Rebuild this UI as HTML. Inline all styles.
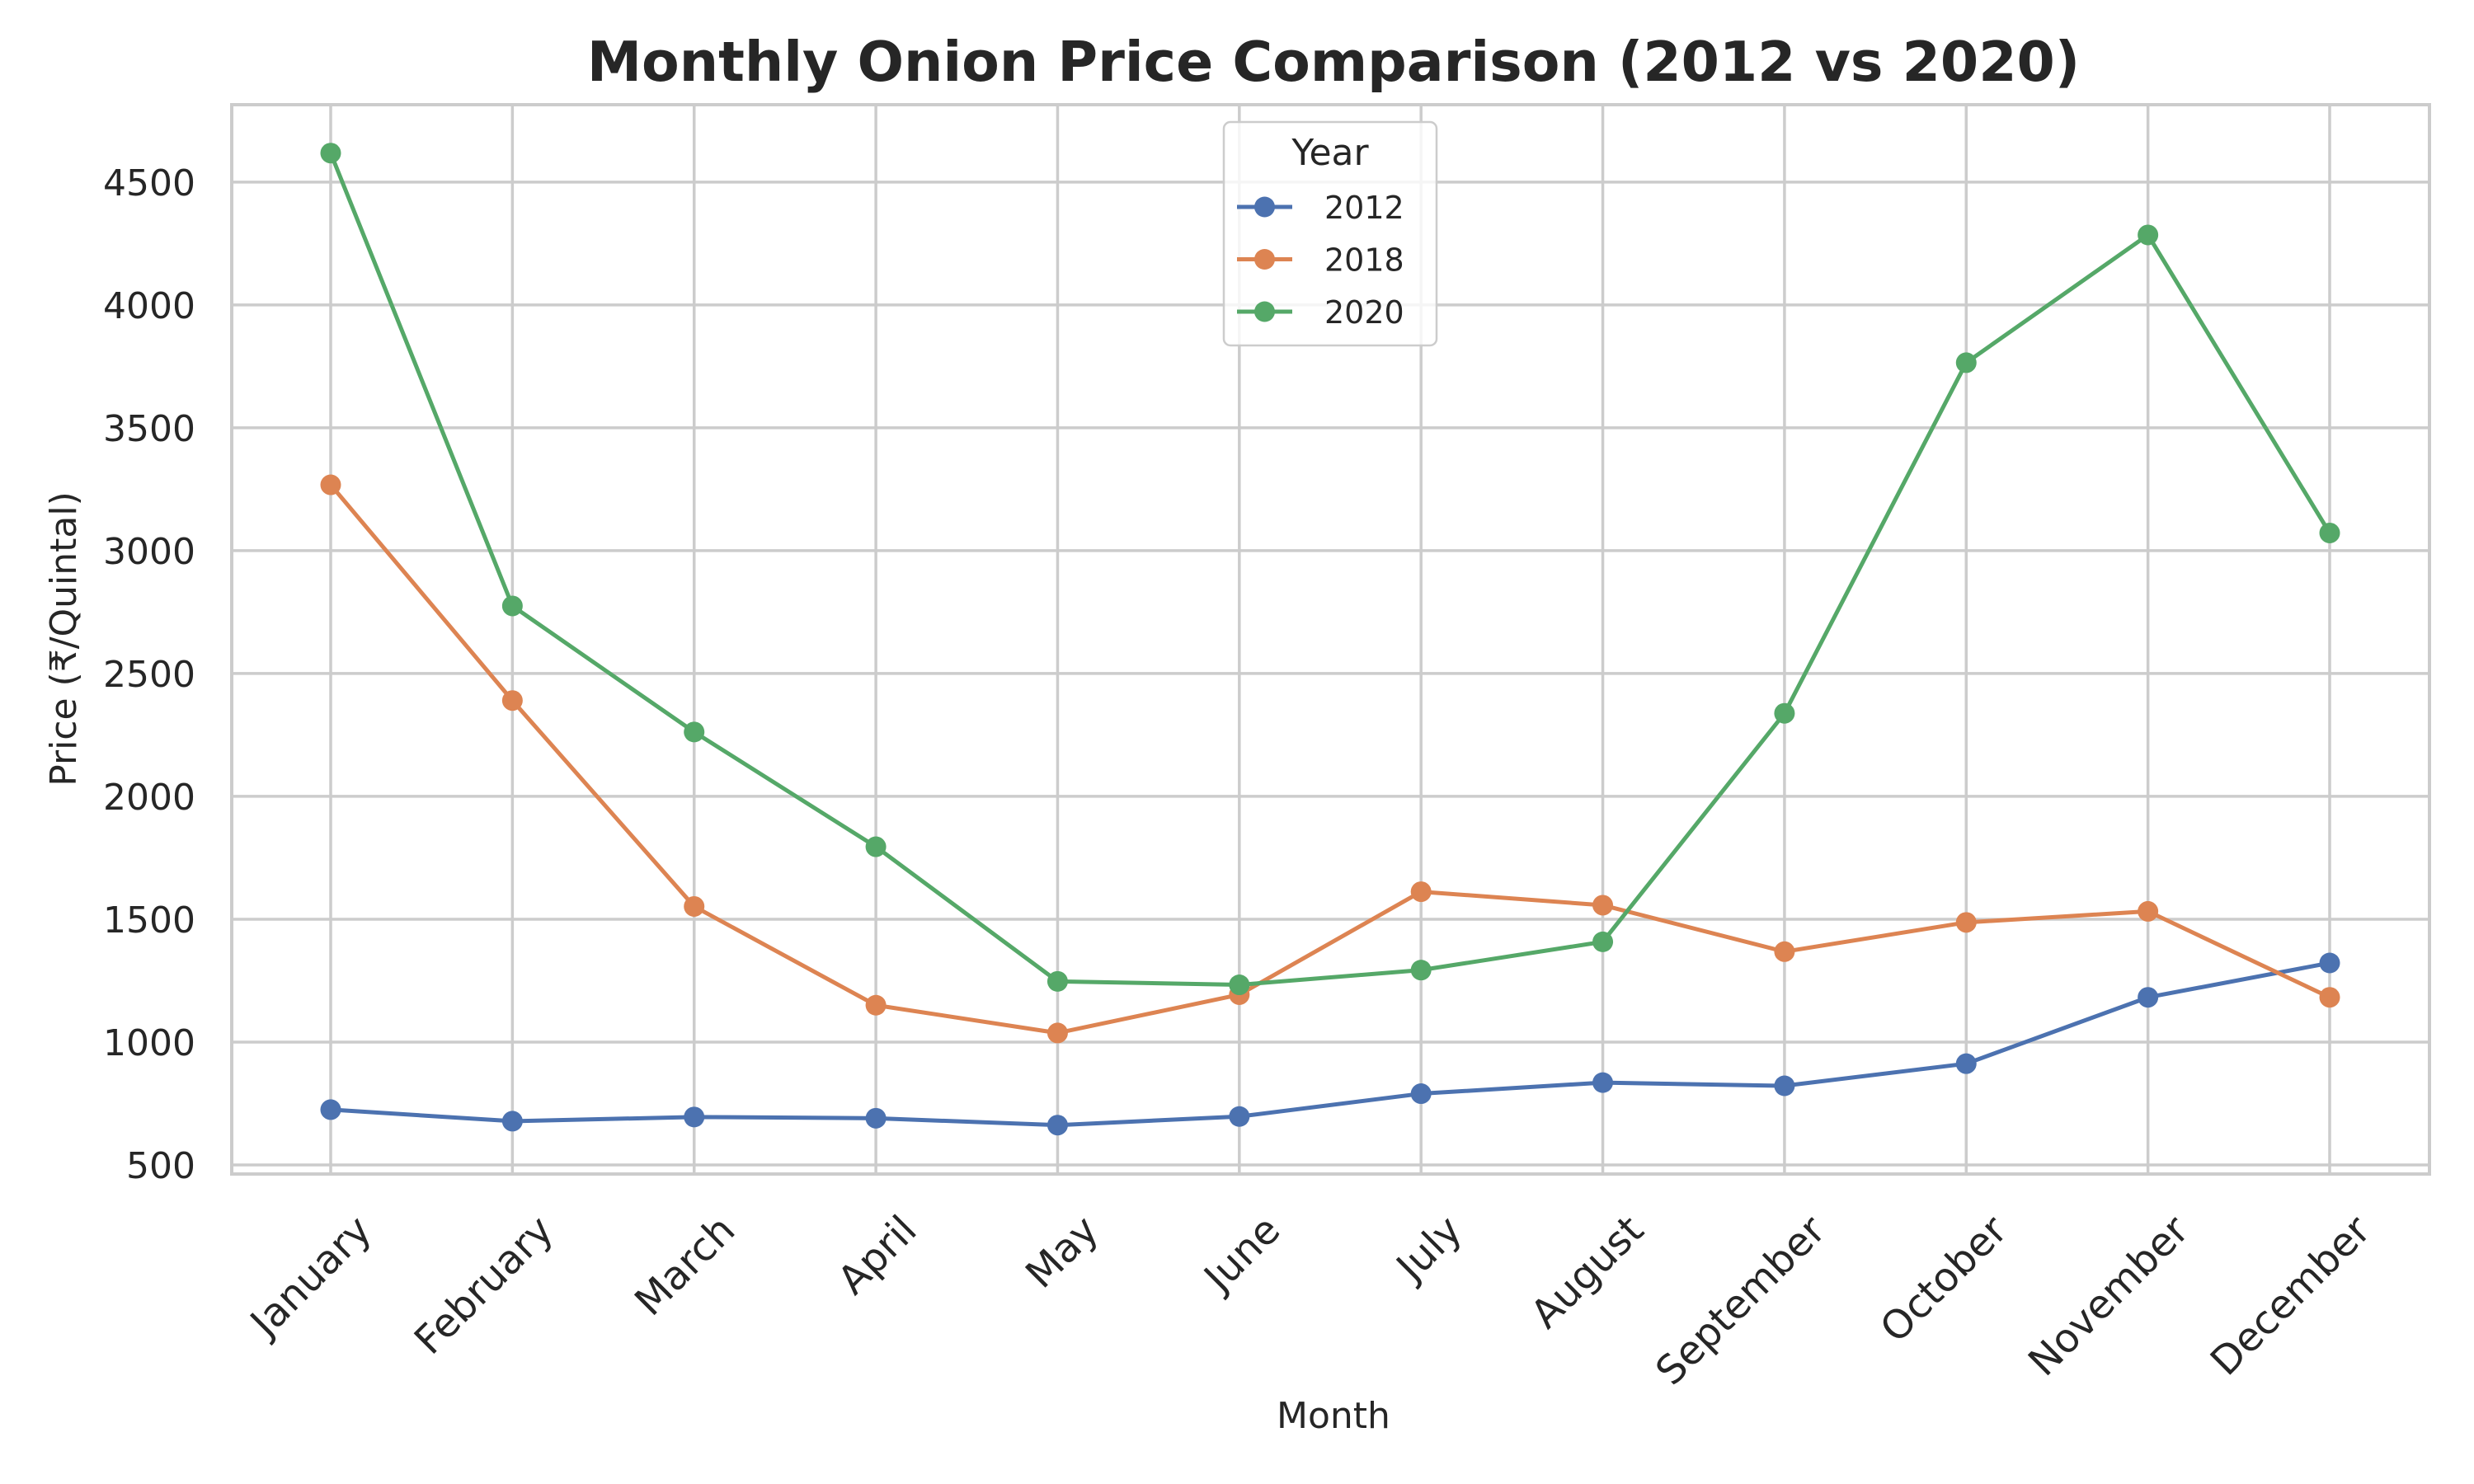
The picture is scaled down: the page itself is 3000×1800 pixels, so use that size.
<!DOCTYPE html>
<html><head><meta charset="utf-8"><style>
body{margin:0;background:#fff}
svg{display:block;font-family:"DejaVu Sans","Liberation Sans",sans-serif}
</style></head><body>
<svg id="chart" width="3000" height="1800" viewBox="0 0 3000 1800" xmlns="http://www.w3.org/2000/svg">
<rect width="3000" height="1800" fill="#fff"/>
<text x="1617" y="98" text-anchor="middle" font-size="66.5" font-weight="bold" fill="#262626">Monthly Onion Price Comparison (2012 vs 2020)</text>
<g id="grid"></g>
<g id="series"></g>
<rect x="281" y="127" width="2665" height="1297" fill="none" stroke="#cccccc" stroke-width="4"/>
<text transform="translate(92,775) rotate(-90)" text-anchor="middle" font-size="44" fill="#262626">Price (₹/Quintal)</text>
<text x="1617" y="1732" text-anchor="middle" font-size="44" fill="#262626">Month</text>
<g id="legend"></g>
</svg>
<script>
const months = ["January","February","March","April","May","June","July","August","September","October","November","December"];
const years = ["2012","2018","2020"];
const values2012 = [725, 678, 695, 690, 662, 697, 790, 835, 822, 912, 1182, 1322];
const values2018 = [3268, 2390, 1552, 1150, 1037, 1193, 1612, 1557, 1368, 1487, 1532, 1182];
const values2020 = [4618, 2775, 2262, 1795, 1247, 1233, 1293, 1408, 2338, 3765, 4285, 3072];
const yTicks = [500, 1000, 1500, 2000, 2500, 3000, 3500, 4000, 4500];
const colors = ["#4c72b0", "#dd8452", "#55a868"];
const NS = "http://www.w3.org/2000/svg";
const L = 281, R = 2946, T = 127, B = 1424;
const yMin = 463, yMax = 4815;
function xPos(i){ return 401 + i * (2825 - 401) / (months.length - 1); }
function yPos(v){ return B - (v - yMin) / (yMax - yMin) * (B - T); }
function mk(tag, attrs, parent){ const e = document.createElementNS(NS, tag); for (const k in attrs) e.setAttribute(k, attrs[k]); parent.appendChild(e); return e; }
const grid = document.getElementById("grid");
const svg = document.getElementById("chart");
yTicks.forEach(t => {
  const y = yPos(t);
  const ln = mk("line", {x1: L, x2: R, y1: y, y2: y, stroke: "#cccccc", "stroke-width": 3.5}, grid);
  
  
  const tx = mk("text", {x: 237, y: y + 16, "text-anchor": "end", "font-size": 44, fill: "#262626"}, svg);
  
  
  tx.textContent = t;
});
months.forEach((m, i) => {
  const x = xPos(i);
  const ln = mk("line", {x1: x, x2: x, y1: T, y2: B, stroke: "#cccccc", "stroke-width": 3.5}, grid);
  
  
  const tx = mk("text", {transform: `translate(${x + 52},${1495}) rotate(-45)`, "text-anchor": "end", "font-size": 48, fill: "#262626"}, svg);
  
  
  tx.textContent = m;
});
const series = document.getElementById("series");
[values2012, values2018, values2020].forEach((vals, s) => {
  const g = mk("g", {}, series);
  
  
  const pts = vals.map((v, i) => xPos(i) + "," + yPos(v)).join(" ");
  const pl = mk("polyline", {points: pts, fill: "none", stroke: colors[s], "stroke-width": 5, "stroke-linejoin": "round"}, g);
  
  
  vals.forEach((v, i) => {
    const c = mk("circle", {cx: xPos(i), cy: yPos(v), r: 12.5, fill: colors[s]}, g);
    
    
  });
});
const lg = document.getElementById("legend");


mk("rect", {x: 1484, y: 148, width: 258, height: 271, rx: 8, fill: "#fff", "fill-opacity": 0.8, stroke: "#cccccc", "stroke-width": 2.5}, lg);
const lt = mk("text", {x: 1613, y: 200, "text-anchor": "middle", "font-size": 44, fill: "#262626"}, lg);


lt.textContent = "Year";
years.forEach((yr, s) => {
  const y = 251 + s * 63.5;
  const e = mk("g", {}, lg);
  
  
  mk("line", {x1: 1500, x2: 1567, y1: y, y2: y, stroke: colors[s], "stroke-width": 5}, e);
  mk("circle", {cx: 1533.5, cy: y, r: 12.5, fill: colors[s]}, e);
  const t = mk("text", {x: 1606, y: y + 14, "font-size": 38, fill: "#262626"}, e);
  t.textContent = yr;
});
</script>
</body></html>
